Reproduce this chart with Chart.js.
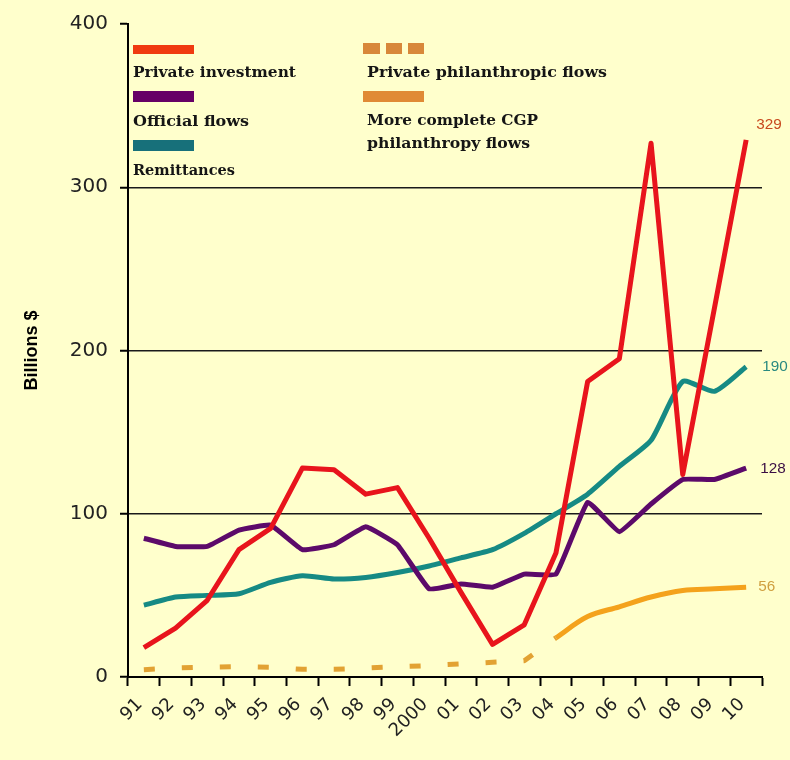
<!DOCTYPE html>
<html><head><meta charset="utf-8">
<script src="https://cdn.jsdelivr.net/npm/chart.js@4.4.1/dist/chart.umd.min.js"></script>
<style>html,body{margin:0;padding:0;background:#FFFFCC;}#wrap{width:790px;height:760px;}</style>
</head><body><div id="wrap"><canvas id="c" width="790" height="760"></canvas></div>
<script>
const years = ['91','92','93','94','95','96','97','98','99','2000','01','02','03','04','05','06','07','08','09','10'];
const yTicks = [0, 100, 200, 300, 400];
const privateInvestment = [18, 30, 47, 78, 91, 128, 127, 112, 116, 85, 52, 20, 32, 76, 181, 195, 327, 124, 226, 329];
const officialFlows     = [85, 80, 80, 90, 93, 78, 81, 92, 81, 54, 57, 55, 63, 63, 107, 89, 106, 121, 121, 128];
const remittances       = [44, 49, 50, 51, 58, 62, 60, 61, 64, 68, 73, 78, 88, 100, 112, 129, 145, 181, 175, 190];
const privatePhilanthropy = [4.5, 5.5, 6, 6.3, 6, 4.7, 4.7, 5.5, 6.3, 7, 8, 9, 10, 24, null, null, null, null, null, null];
const cgpPhilanthropy     = [null, null, null, null, null, null, null, null, null, null, null, null, null, 24, 37, 43, 49, 53, 54, 55];
const endLabels = ['329', '128', '190', '56'];
const legendLeft = ['Private investment', 'Official flows', 'Remittances'];
const legendRight = ['Private philanthropic flows', 'More complete CGP', 'philanthropy flows'];

const RED = '#E8141C', PURPLE = '#5C0A6A', TEAL = '#168A84', ODASH = '#E2A233', OSOLID = '#F4A21C';

function fitText(ctx, text, x, y, w) {
  const m = ctx.measureText(text).width;
  ctx.save();
  ctx.translate(x, y);
  ctx.scale(w / m, 1);
  ctx.fillText(text, 0, 0);
  ctx.restore();
}

const legendPlugin = {
  id: 'customLegend',
  afterDraw(chart) {
    const ctx = chart.ctx;
    ctx.save();
    ctx.fillStyle = '#F03A10'; ctx.fillRect(133, 45, 61, 9);
    ctx.fillStyle = '#660066'; ctx.fillRect(133, 91, 61, 11);
    ctx.fillStyle = '#17707A'; ctx.fillRect(133, 140, 61, 11);
    ctx.fillStyle = '#D8883A';
    ctx.fillRect(363, 43, 17, 11); ctx.fillRect(386, 43, 16, 11); ctx.fillRect(408, 43, 16, 11);
    ctx.fillStyle = '#E08A35'; ctx.fillRect(363, 91, 61, 11);
    ctx.fillStyle = '#151515';
    ctx.font = 'bold 14px "DejaVu Serif"';
    ctx.textBaseline = 'alphabetic';
    ctx.textAlign = 'left';
    const lw = [163, 116, 102];
    const ly = [77, 126, 175];
    legendLeft.forEach((t, i) => fitText(ctx, t, 133, ly[i], lw[i]));
    const rw = [240, 171, 163];
    const ry = [77, 125, 148];
    legendRight.forEach((t, i) => fitText(ctx, t, 367, ry[i], rw[i]));
    ctx.font = '14px "Liberation Sans"';
    ctx.textBaseline = 'middle';
    const sets = [[0, '#C84A1E', -15, 10], [1, '#3A0E44', 1, 14], [2, '#2A8A80', 0, 16], [3, '#D0A040', 0, 12]];
    sets.forEach(([di, col, dy, dx]) => {
      const meta = chart.getDatasetMeta(di === 3 ? 4 : di);
      const pt = meta.data[meta.data.length - 1];
      ctx.fillStyle = col;
      fitText(ctx, endLabels[di], pt.x + dx, pt.y + dy, endLabels[di].length * 8.5);
    });
    ctx.restore();
  }
};

new Chart(document.getElementById('c'), {
  type: 'line',
  data: {
    labels: years,
    datasets: [
      { label: 'Private investment', data: privateInvestment, borderColor: RED, borderWidth: 5, tension: 0 },
      { label: 'Official flows', data: officialFlows, borderColor: PURPLE, borderWidth: 5, tension: 0.1 },
      { label: 'Remittances', data: remittances, borderColor: TEAL, borderWidth: 5, tension: 0.2 },
      { label: 'Private philanthropic flows', data: privatePhilanthropy, borderColor: ODASH, borderWidth: 5, borderDash: [11, 27], tension: 0 },
      { label: 'More complete CGP philanthropy flows', data: cgpPhilanthropy, borderColor: OSOLID, borderWidth: 5, tension: 0.35 }
    ]
  },
  options: {
    responsive: false,
    devicePixelRatio: 1,
    animation: false,
    layout: { padding: { left: 0, right: 28, top: 24, bottom: 0 } },
    elements: { point: { radius: 0 }, line: { borderJoinStyle: 'round', borderCapStyle: 'butt', fill: false } },
    plugins: { legend: { display: false }, tooltip: { enabled: false } },
    scales: {
      x: {
        type: 'category',
        offset: true,
        grid: { offset: true, drawOnChartArea: false, drawTicks: true, tickLength: 9, tickColor: '#000', tickWidth: 2, color: '#000' },
        border: { display: true, color: '#000', width: 2 },
        ticks: { minRotation: 45, maxRotation: 45, autoSkip: false, font: { family: 'DejaVu Sans', size: 18 }, color: '#222', padding: 8, labelOffset: -4 },
        afterFit(s) { s.height = 83; }
      },
      y: {
        min: 0, max: 400,
        afterBuildTicks(s) { s.ticks = yTicks.map(v => ({ value: v })); },
        ticks: { font: { family: 'DejaVu Sans', size: 20 }, color: '#222', padding: 12 },
        grid: {
          color: c => (c.tick && (c.tick.value === 0 || c.tick.value === 400)) ? 'rgba(0,0,0,0)' : '#1a1a1a',
          lineWidth: 1.5, tickLength: 8, tickColor: '#000', tickWidth: 2, drawTicks: true
        },
        border: { display: true, color: '#000', width: 2 },
        title: { display: true, text: 'Billions $', font: { family: 'Liberation Sans', size: 18, weight: 'bold' }, color: '#000', padding: { top: 21, bottom: 0 } },
        afterFit(s) { s.width = 128; }
      }
    }
  },
  plugins: [legendPlugin]
});
</script>
</body></html>
